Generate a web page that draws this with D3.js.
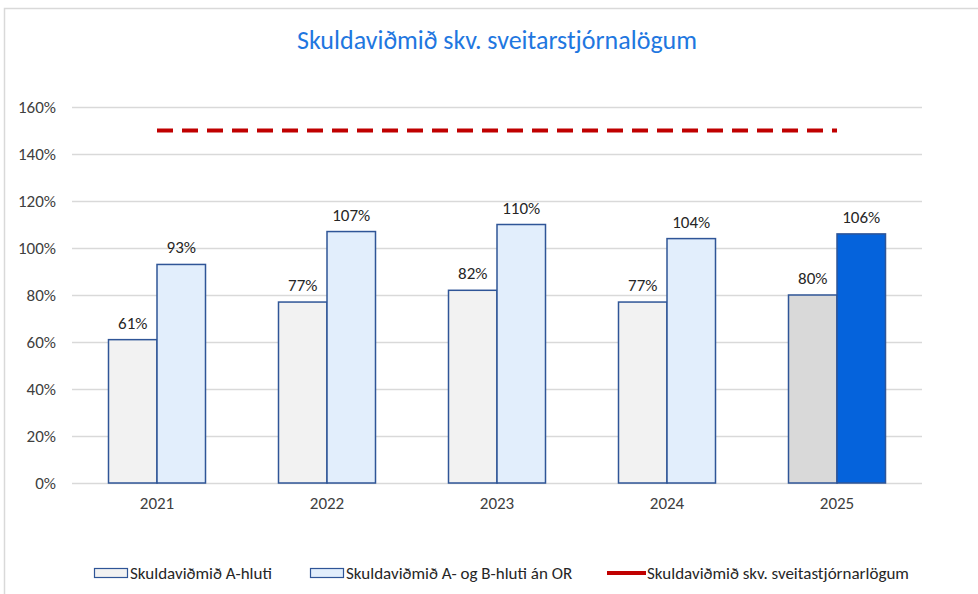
<!DOCTYPE html>
<html><head><meta charset="utf-8">
<script src="https://cdn.jsdelivr.net/npm/d3@7/dist/d3.min.js"></script>
<style>body{margin:0;background:#fff}svg{display:block}</style>
</head><body>
<svg id="c" width="978" height="594"></svg>
<script>
const years = ["2021","2022","2023","2024","2025"];
const seriesA = [0.61, 0.77, 0.82, 0.77, 0.80];
const seriesB = [0.93, 1.07, 1.10, 1.04, 1.06];
const limitLine = [1.5, 1.5, 1.5, 1.5, 1.5];
const yTicks = [0, 0.2, 0.4, 0.6, 0.8, 1.0, 1.2, 1.4, 1.6];
const title = "Skuldaviðmið skv. sveitarstjórnalögum";
const legendNames = ["Skuldaviðmið A-hluti", "Skuldaviðmið A- og B-hluti án OR", "Skuldaviðmið skv. sveitastjórnarlögum"];

const font = "Carlito, Lato, sans-serif";
const svg = d3.select("#c");
// border
svg.append("path").attr("d","M4.5,600 V8.5 H990").attr("fill","none").attr("stroke","#d9d9d9").attr("stroke-width",1.5);

const x0 = d3.scaleBand().domain(years).range([72,922]).paddingInner(0).paddingOuter(0);
const y = d3.scaleLinear().domain([0,1.6]).range([483,107]);
const barW = 48.5;

// gridlines
svg.append("g").selectAll("line").data(yTicks).join("line")
  .attr("x1",72).attr("x2",922).attr("y1",d=>Math.round(y(d))+0.5).attr("y2",d=>Math.round(y(d))+0.5)
  .attr("stroke","#d9d9d9").attr("stroke-width",1.3);

// y axis labels
const yAxis = d3.axisLeft(y).tickValues(yTicks).tickFormat(d=>Math.round(d*100)+"%").tickSize(0).tickPadding(0);
const ga = svg.append("g").attr("transform","translate(56,0)").call(yAxis);
ga.select(".domain").remove();
ga.selectAll("text").attr("font-family",font).attr("font-size",17).attr("fill","#404040");

// x axis labels
const xAxis = d3.axisBottom(x0).tickSize(0).tickPadding(0);
const gx = svg.append("g").attr("transform","translate(0,497)").call(xAxis);
gx.select(".domain").remove();
gx.selectAll("text").attr("font-family",font).attr("font-size",17).attr("fill","#404040");

const fillA = (i)=> i===4 ? "#d9d9d9" : "#f2f2f2";
const fillB = (i)=> i===4 ? "#0563dc" : "#e2eefc";
const stroke = "#2f5597";

const cx = d => x0(d)+x0.bandwidth()/2;

// bars
svg.append("g").selectAll("rect").data(seriesA).join("rect")
  .attr("x",(d,i)=>cx(years[i])-barW).attr("width",barW)
  .attr("y",d=>y(d)).attr("height",d=>y(0)-y(d))
  .attr("fill",(d,i)=>fillA(i)).attr("stroke",stroke).attr("stroke-width",1.5);
svg.append("g").selectAll("rect").data(seriesB).join("rect")
  .attr("x",(d,i)=>cx(years[i])).attr("width",barW)
  .attr("y",d=>y(d)).attr("height",d=>y(0)-y(d))
  .attr("fill",(d,i)=>fillB(i)).attr("stroke",stroke).attr("stroke-width",1.5);

// labels
const lab = svg.append("g").attr("font-family",font).attr("font-size",17).attr("fill","#262626").attr("text-anchor","middle");
lab.selectAll("text.a").data(seriesA).join("text").attr("class","a")
  .attr("x",(d,i)=>cx(years[i])-barW/2).attr("y",d=>y(d)-11).text(d=>Math.round(d*100)+"%");
lab.selectAll("text.b").data(seriesB).join("text").attr("class","b")
  .attr("x",(d,i)=>cx(years[i])+barW/2).attr("y",d=>y(d)-11).text(d=>Math.round(d*100)+"%");

// dashed line
const line = d3.line().x((d,i)=>cx(years[i])).y(d=>y(d));
svg.append("path").datum(limitLine).attr("d",line).attr("fill","none")
  .attr("stroke","#c00000").attr("stroke-width",4).attr("stroke-dasharray","16,9");

// title
svg.append("text").attr("x",497).attr("y",49).attr("text-anchor","middle")
  .attr("font-family",font).attr("font-size",26).attr("fill","#1f77e0").text(title);

// legend
const lg = svg.append("g").attr("font-family",font).attr("font-size",17).attr("fill","#262626");
lg.append("rect").attr("x",94.5).attr("y",568.5).attr("width",33).attr("height",9).attr("fill","#f2f2f2").attr("stroke",stroke).attr("stroke-width",1.2);
lg.append("text").attr("x",130).attr("y",579).text(legendNames[0]);
lg.append("rect").attr("x",310.5).attr("y",568.5).attr("width",33).attr("height",9).attr("fill","#e2eefc").attr("stroke",stroke).attr("stroke-width",1.2);
lg.append("text").attr("x",346).attr("y",579).text(legendNames[1]);
lg.append("line").attr("x1",607).attr("x2",646).attr("y1",573).attr("y2",573).attr("stroke","#c00000").attr("stroke-width",4);
lg.append("text").attr("x",647).attr("y",579).text(legendNames[2]);
</script>
</body></html>
